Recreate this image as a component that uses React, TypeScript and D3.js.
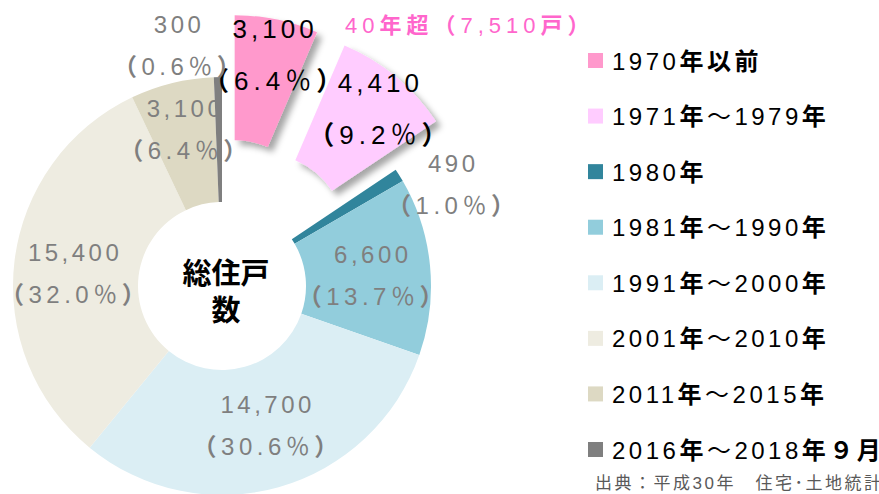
import React from "react";
import * as d3 from "d3";

const categories = [
  "1970年以前",
  "1971年～1979年",
  "1980年",
  "1981年～1990年",
  "1991年～2000年",
  "2001年～2010年",
  "2011年～2015年",
  "2016年～2018年９月",
];
const values = [3100, 4410, 490, 6600, 14700, 15400, 3100, 300];
const percents = ["6.4", "9.2", "1.0", "13.7", "30.6", "32.0", "6.4", "0.6"];
const colors = ["#ff99cc", "#ffccff", "#31859c", "#92cddc", "#dbeef4", "#eeece1", "#ddd9c3", "#7f7f7f"];
const exploded = [true, true, false, false, false, false, false, false];
const headerText = "40年超（7,510戸）";
const centerLines = ["総住戸", "数"];
const sourceText = "出典：平成30年　住宅･土地統計調査";

// layout (not data)
const labelOffsets: [number, number][] = [
  [11, -43],
  [24.5, -33],
  [107, -36],
  [5, -9],
  [6, -14],
  [-1.5, -7],
  [-1.5, -27],
  [-40, -106.5],
];

const FONT = "'Liberation Sans', Arial, 'Noto Sans CJK JP', sans-serif";

// split text into runs; CJK runs bold except the wave dash and percent sign
function mixed(text: string, boldTest: (ch: string) => boolean) {
  const runs: { s: string; b: boolean }[] = [];
  for (const ch of Array.from(text)) {
    const b = boldTest(ch);
    if (runs.length && runs[runs.length - 1].b === b) runs[runs.length - 1].s += ch;
    else runs.push({ s: ch, b });
  }
  return runs.map((r, i) => (
    <tspan key={i} fontWeight={r.b ? "bold" : "normal"}>
      {r.s}
    </tspan>
  ));
}
const cjkBold = (ch: string) => /[^\x00-\x7F]/.test(ch) && ch !== "～" && ch !== "％";
const parenBold = (ch: string) => ch === "（" || ch === "）";

export default function App() {
  const W = 879;
  const H = 494;
  const cx = 222;
  const cy = 286;
  const rIn = 84;
  const rOut = 209;
  const explode = 63;

  const pie = d3
    .pie<number>()
    .sort(null)
    .value((d) => d)
    .startAngle(0)
    .endAngle(Math.PI * 2);
  const arcs = pie(values);
  const arc = d3.arc<d3.PieArcDatum<number>>().innerRadius(rIn).outerRadius(rOut);
  const fmt = d3.format(",");

  const legendY = d3.scalePoint<number>().domain(d3.range(categories.length)).range([61, 450]);

  return (
    <svg
      width={W}
      height={H}
      style={{ position: "absolute", left: 0, top: 0, background: "#fff" }}
      fontFamily={FONT}
    >
      <defs>
        <filter id="shadow" x="-20%" y="-20%" width="150%" height="150%">
          <feDropShadow dx="5" dy="5" stdDeviation="3" floodColor="#000" floodOpacity="0.35" />
        </filter>
      </defs>
      <g transform={`translate(${cx},${cy})`}>
        {arcs.map((a, i) => {
          const mid = (a.startAngle + a.endAngle) / 2;
          const off = exploded[i] ? explode : 0;
          const tx = Math.sin(mid) * off;
          const ty = -Math.cos(mid) * off;
          return (
            <path
              key={i}
              d={arc(a) || ""}
              fill={colors[i]}
              transform={`translate(${tx},${ty})`}
              filter={exploded[i] ? "url(#shadow)" : undefined}
            />
          );
        })}
        {arcs.map((a, i) => {
          const mid = (a.startAngle + a.endAngle) / 2;
          const off = exploded[i] ? explode : 0;
          const [c0, c1] = arc.centroid(a);
          const x = c0 + Math.sin(mid) * off + labelOffsets[i][0];
          const y = c1 - Math.cos(mid) * off + labelOffsets[i][1];
          const black = exploded[i];
          const fs = black ? 26 : 24;
          const gap = black ? 52 : 42;
          return (
            <g key={"l" + i} fill={black ? "#000" : "#7f7f7f"} fontSize={fs} textAnchor="middle">
              <text x={x} y={y} letterSpacing={black ? 4 : 3.5}>
                {fmt(values[i])}
              </text>
              <text x={x} y={y + gap} letterSpacing={black ? 5 : 4.5}>
                {mixed(`（${percents[i]}％）`, parenBold)}
              </text>
            </g>
          );
        })}
        <text x={4} y={-2} textAnchor="middle" fontSize={29} fontWeight="bold" fill="#000">
          {centerLines[0]}
        </text>
        <text x={4} y={35} textAnchor="middle" fontSize={29} fontWeight="bold" fill="#000">
          {centerLines[1]}
        </text>
      </g>
      <text x={345} y={33} fontSize={22} fill="#ff66cc" letterSpacing={5}>
        {mixed(headerText, (ch) => /[^\x00-\x7F]/.test(ch))}
      </text>
      {categories.map((c, i) => {
        const y = legendY(i) as number;
        return (
          <g key={"lg" + i}>
            <rect x={588} y={y - 8} width={15} height={15} fill={colors[i]} />
            <text x={612} y={y + 8.5} fontSize={24} fill="#000" letterSpacing={3.5}>
              {mixed(c, cjkBold)}
            </text>
          </g>
        );
      })}
      <text x={595} y={489} fontSize={17} fill="#595959" letterSpacing={2.5}>
        {sourceText}
      </text>
    </svg>
  );
}
